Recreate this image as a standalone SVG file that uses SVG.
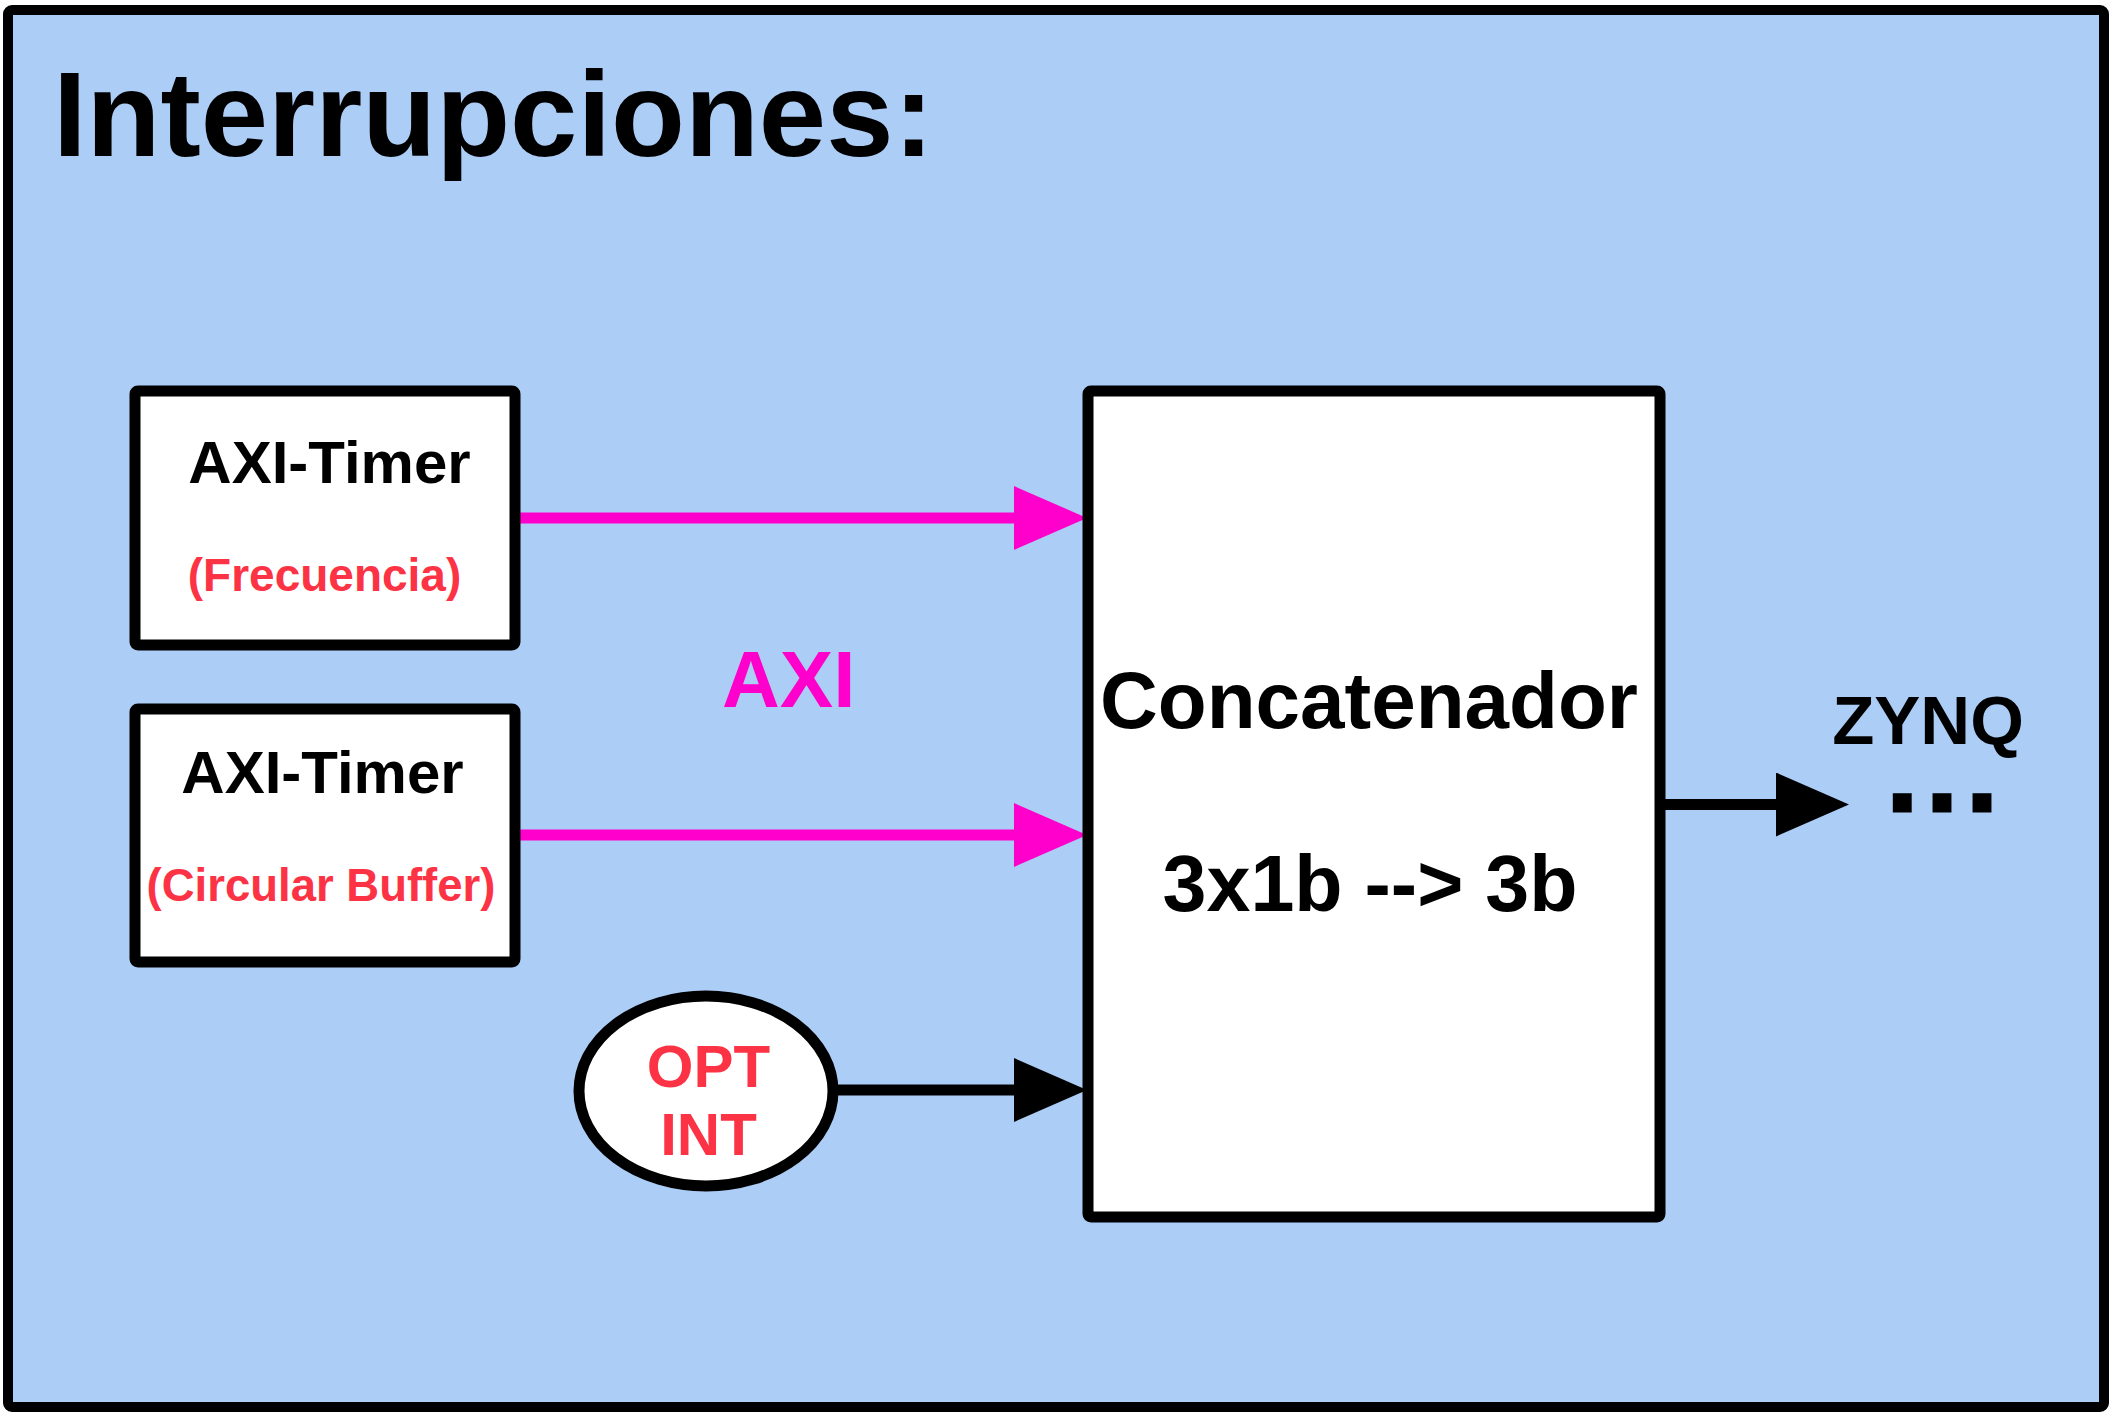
<svg xmlns="http://www.w3.org/2000/svg" width="2112" height="1414" viewBox="0 0 2112 1414">
<style>
text{font-family:"Liberation Sans",Arial,Helvetica,sans-serif;font-weight:bold}
.box{fill:#ffffff;stroke:#000000;stroke-width:11;stroke-linejoin:round}
.blk{fill:#000000}
.red{fill:#FC3344}
.mag{fill:#FF00CC}
.pink{stroke:#FF00CC;stroke-width:11;stroke-linecap:round;fill:none}
.dark{stroke:#000000;stroke-width:11;fill:none}
</style>
<defs>
<marker id="ahPink" markerUnits="userSpaceOnUse" markerWidth="74" markerHeight="66" viewBox="0 0 74 66" refX="11" refY="32" orient="auto">
<path d="M0,0 L73,32 L0,64 Z" fill="#FF00CC"/>
</marker>
<marker id="ahBlack" markerUnits="userSpaceOnUse" markerWidth="74" markerHeight="66" viewBox="0 0 74 66" refX="11" refY="32" orient="auto">
<path d="M0,0 L73,32 L0,64 Z" fill="#000000"/>
</marker>
</defs>
<rect x="0" y="0" width="2112" height="1414" fill="#ffffff"/>
<g id="frame">
<rect x="8" y="10" width="2096" height="1397" rx="4" fill="#ACCDF6" stroke="#000000" stroke-width="10"/>
<text x="53" y="156" font-size="121" class="blk">Interrupciones:</text>
</g>
<g id="connectors">
<line class="pink" x1="517" y1="518" x2="1025" y2="518" marker-end="url(#ahPink)"/>
<line class="pink" x1="517" y1="835" x2="1025" y2="835" marker-end="url(#ahPink)"/>
<line class="dark" x1="833" y1="1090" x2="1025" y2="1090" marker-end="url(#ahBlack)"/>
<line class="dark" x1="1660" y1="804.5" x2="1787" y2="804.5" stroke-width="10" marker-end="url(#ahBlack)"/>
<text x="722" y="707" font-size="80" class="mag">AXI</text>
</g>
<g id="timer-frecuencia">
<rect class="box" x="135" y="391" width="380" height="254" rx="3"/>
<text x="329.5" y="483" font-size="60" text-anchor="middle" class="blk">AXI-Timer</text>
<text x="324.5" y="591" font-size="46" text-anchor="middle" class="red">(Frecuencia)</text>
</g>
<g id="timer-buffer">
<rect class="box" x="135" y="709" width="380" height="253" rx="3"/>
<text x="322.5" y="793" font-size="60" text-anchor="middle" class="blk">AXI-Timer</text>
<text x="321" y="901" font-size="45.5" text-anchor="middle" class="red">(Circular Buffer)</text>
</g>
<g id="opt-int">
<ellipse class="box" cx="706" cy="1091" rx="127" ry="95"/>
<text x="708.5" y="1087" font-size="60" text-anchor="middle" class="red">OPT</text>
<text x="708.5" y="1155" font-size="60" text-anchor="middle" class="red">INT</text>
</g>
<g id="concatenador">
<rect class="box" x="1088" y="391" width="572" height="826" rx="3"/>
<text x="1369" y="728" font-size="80" text-anchor="middle" class="blk">Concatenador</text>
<text x="1370" y="911" font-size="79" text-anchor="middle" class="blk">3x1b --&gt; 3b</text>
</g>
<g id="zynq">
<text x="1928" y="744" font-size="69" text-anchor="middle" class="blk">ZYNQ</text>
<text x="1894.4" y="806.5" font-size="56" letter-spacing="24.4" stroke="#000000" stroke-width="11" stroke-linejoin="miter" class="blk">...</text>
</g>
</svg>
